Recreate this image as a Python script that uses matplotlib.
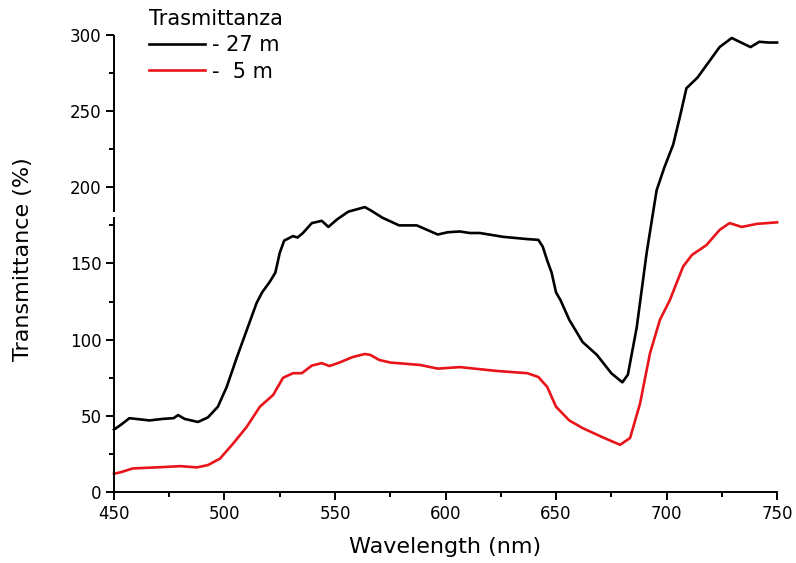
import matplotlib
matplotlib.use("Agg")
import matplotlib.pyplot as plt
from matplotlib.ticker import MultipleLocator

# transmittance at 27 m depth
wl_27 = [450, 453, 457, 466, 472, 477, 479, 482, 488, 492.5, 497, 501, 505.5, 510,
         514.5, 517, 520.5, 523, 525, 527, 531, 533, 535.5, 539.5, 544, 547, 551,
         556, 563.5, 566, 571.5, 579, 587, 596.5, 601, 606.5, 611, 615.5, 626, 637,
         642, 644, 646, 648, 650, 652, 656, 662, 668.5, 675, 680, 682.5, 686.5, 691,
         695.5, 699, 703, 706, 709, 714, 719, 724, 729.5, 733, 738, 742, 746, 750]
tr_27 = [41, 44, 48.5, 47, 48, 48.5, 50.5, 48, 46, 49, 56, 69, 88, 106,
         124, 131, 138, 144, 157, 165, 168, 167, 170, 176.5, 178, 174, 179,
         184, 187, 185, 180, 175, 175, 169, 170.5, 171, 170, 170, 167.5, 166,
         165.5, 161, 152, 144, 131, 126, 113, 98.5, 90, 78, 72, 77, 108, 157,
         198, 213, 228, 246, 265, 272, 282, 292, 298, 295.5, 292, 295.5, 295, 295]

# transmittance at 5 m depth
wl_5 = [450, 453, 458.5, 472, 480, 487.5, 492.5, 498, 504, 510, 516, 522, 526.5,
        531, 535, 539.5, 544, 547.5, 552, 558, 563.5, 566, 570, 575, 588.5, 596.5,
        606.5, 623, 637, 642, 646, 650, 656, 662, 671, 679, 683.5, 688, 692.5, 697,
        701.5, 707.5, 711.5, 718, 724, 728.5, 734, 741, 750]
tr_5 = [12, 13, 15.5, 16.4, 17, 16.2, 17.7, 22, 32, 42.7, 56, 63.7, 75,
        78, 78, 83, 84.6, 82.7, 85, 88.6, 90.6, 90, 86.7, 85, 83.4, 81,
        82, 79.5, 78, 75.5, 69, 56, 47, 42, 36, 31, 35.5, 58, 91, 113,
        126, 148, 155.6, 162, 172, 176.5, 174, 176, 177]

series_labels = ["- 27 m", "-  5 m"]

plt.rcParams["font.family"] = ["DejaVu Sans"]

fig = plt.figure(figsize=(7.96, 5.63), dpi=100)
ax = fig.add_axes([0.1432, 0.126, 0.833, 0.812])

ax.plot(wl_27, tr_27, color="black", linewidth=1.9, label=series_labels[0], clip_on=False)
ax.plot(wl_5, tr_5, color="#e8141a", linewidth=1.9, label=series_labels[1], clip_on=False)

ax.set_xlim(450, 750)
ax.set_ylim(0, 300)
ax.xaxis.set_major_locator(MultipleLocator(50))
ax.xaxis.set_minor_locator(MultipleLocator(25))
ax.yaxis.set_major_locator(MultipleLocator(50))
ax.yaxis.set_minor_locator(MultipleLocator(25))
ax.tick_params(which="major", length=5.5, width=1.4, labelsize=12, direction="out")
ax.tick_params(which="minor", length=3.5, width=1.4, direction="out")

for side in ["top", "right"]:
    ax.spines[side].set_visible(False)
ax.spines["bottom"].set_linewidth(1.4)
ax.spines["left"].set_linewidth(1.4)
# broken y axis: lower part up to 180, upper part from 184
ax.spines["left"].set_bounds(0, 180)
ax.plot([450, 450], [184, 300], color="black", linewidth=1.4, clip_on=False,
        solid_capstyle="butt")

ax.set_xlabel("Wavelength (nm)", fontsize=16)
ax.set_ylabel("Transmittance (%)", fontsize=16)
ax.xaxis.set_label_coords(0.5, -0.098)
ax.yaxis.set_label_coords(-0.122, 0.51)

leg = ax.legend(title="Trasmittanza", loc="upper left", bbox_to_anchor=(0.172, 1.006),
                bbox_transform=fig.transFigure, frameon=False, fontsize=15,
                title_fontsize=15, alignment="left", handlelength=2.65,
                handletextpad=0.34, labelspacing=0.3, borderpad=0.1)

fig.savefig("out.png", dpi=100)
